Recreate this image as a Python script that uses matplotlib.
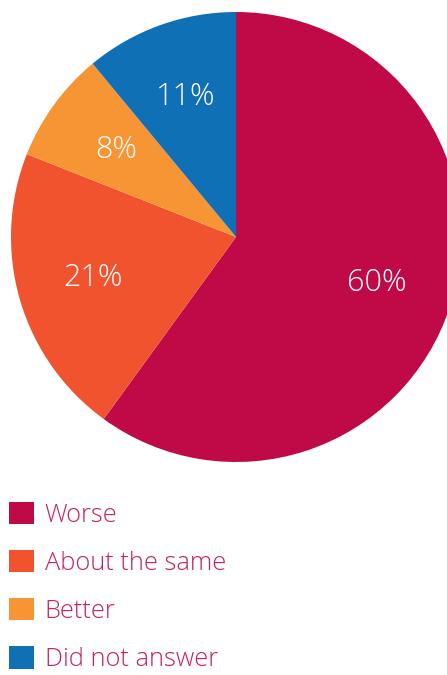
import matplotlib
matplotlib.use("Agg")
import matplotlib.pyplot as plt

labels = ["Worse", "About the same", "Better", "Did not answer"]
shares = [60, 21, 8, 11]
colors = ["#BF0A47", "#F0532E", "#F79434", "#1070B5"]

plt.rcParams['font.family'] = ['Open Sans', 'DejaVu Sans']

fig = plt.figure(figsize=(4.47, 6.75), dpi=100)
ax = fig.add_axes([0, 0, 1, 1])

wedges, texts, autotexts = ax.pie(
    shares, colors=colors, startangle=90, counterclock=False,
    center=(236, 438), radius=225,
    autopct=lambda p: f"{p:.0f}%", pctdistance=0.66,
    wedgeprops=dict(linewidth=0),
    textprops=dict(color="white", fontsize=22, fontweight="light"),
)

ax.set_xlim(0, 447)
ax.set_ylim(0, 675)
ax.set_aspect("equal")
ax.axis("off")

leg = fig.legend(
    wedges, labels, loc="upper left", bbox_to_anchor=(9 / 447, 1 - 502 / 675),
    frameon=False, borderpad=0, borderaxespad=0,
    handlelength=1.0, handleheight=0.96, handletextpad=0.4,
    labelspacing=0.88, labelcolor="#C8225A",
    prop=dict(weight="light", size=18.3),
)

fig.savefig("out.png", dpi=100)
